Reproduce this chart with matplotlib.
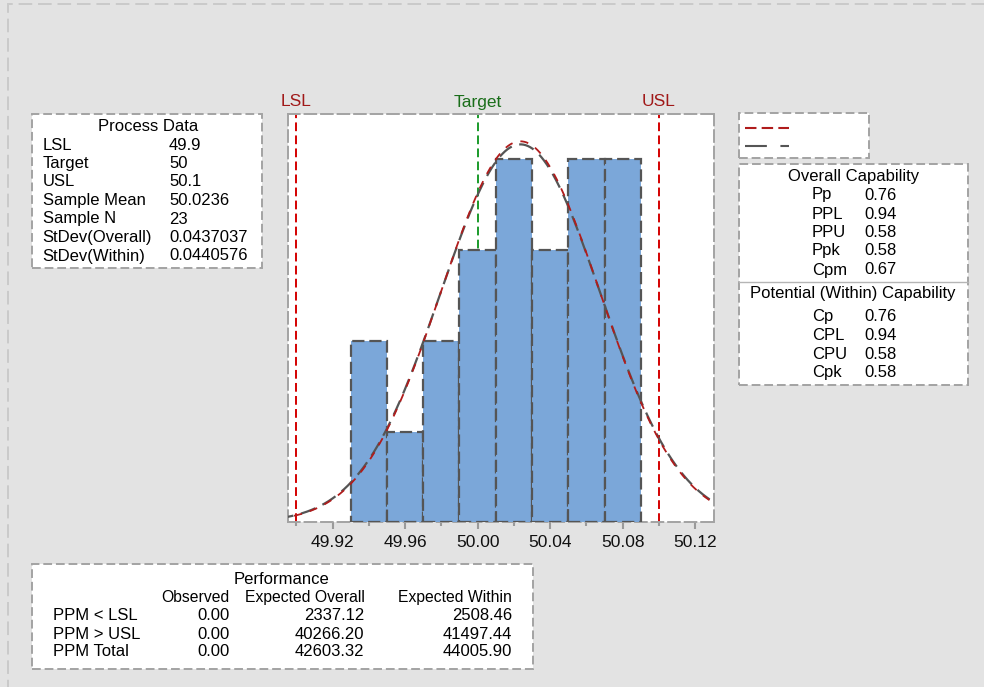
import numpy as np
import matplotlib
matplotlib.use("Agg")
import matplotlib.pyplot as plt
from matplotlib.patches import Rectangle
from matplotlib.lines import Line2D
from matplotlib.ticker import FixedLocator, FormatStrFormatter

plt.rcParams['font.family'] = ['Liberation Sans', 'DejaVu Sans']

# ---- process data ----
lsl, target, usl = 49.9, 50.0, 50.1
sample_mean = 50.0236
sample_n = 23
sd_overall = 0.0437037
sd_within = 0.0440576

bin_edges = [49.93, 49.95, 49.97, 49.99, 50.01, 50.03, 50.05, 50.07, 50.09]
counts = [2, 1, 2, 3, 4, 3, 4, 4]

xticks_major = [49.92, 49.96, 50.00, 50.04, 50.08, 50.12]
xticks_minor = [49.90, 49.94, 49.98, 50.02, 50.06, 50.10]

process_labels = ["LSL", "Target", "USL", "Sample Mean", "Sample N",
                  "StDev(Overall)", "StDev(Within)"]
process_values = ["49.9", "50", "50.1", "50.0236", "23", "0.0437037", "0.0440576"]

overall_labels = ["Pp", "PPL", "PPU", "Ppk", "Cpm"]
overall_values = ["0.76", "0.94", "0.58", "0.58", "0.67"]
within_labels = ["Cp", "CPL", "CPU", "Cpk"]
within_values = ["0.76", "0.94", "0.58", "0.58"]

perf_cols = ["Observed", "Expected Overall", "Expected Within"]
perf_rows = ["PPM < LSL", "PPM > USL", "PPM Total"]
perf_observed = ["0.00", "0.00", "0.00"]
perf_exp_overall = ["2337.12", "40266.20", "42603.32"]
perf_exp_within = ["2508.46", "41497.44", "44005.90"]

# ---- figure ----
W, H = 984, 687
fig = plt.figure(figsize=(W / 100, H / 100), dpi=100)
fig.patch.set_facecolor('#e3e3e3')


def fx(px):
    return px / W


def fy(py):
    return 1 - py / H


BOX_C = '#a3a3a3'
BOX_LS = (0, (4.5, 2.0))


def box(x0, y0, x1, y1, lw=1.4, color=BOX_C, face='white'):
    r = Rectangle((fx(x0), fy(y1)), fx(x1) - fx(x0), fy(y0) - fy(y1),
                  transform=fig.transFigure, facecolor=face, edgecolor=color,
                  lw=lw, linestyle=BOX_LS, zorder=0)
    fig.patches.append(r)


# outer frame of the window
fig.patches.append(Rectangle((fx(8), fy(760)), fx(1060) - fx(8), fy(4) - fy(760),
                             transform=fig.transFigure, facecolor='none',
                             edgecolor='#cacaca', lw=1.4, linestyle=(0, (7, 3))))

# ---- histogram axes ----
ax_l, ax_r, ax_t, ax_b = 287.7, 714.3, 114.0, 522.3
ax = fig.add_axes([fx(ax_l), fy(ax_b), fx(ax_r) - fx(ax_l), fy(ax_t) - fy(ax_b)])
ax.set_facecolor('white')
ax.set_xlim(49.8953, 50.1305)
ax.set_ylim(0, 4.5)

edges = np.array(bin_edges)
widths = np.diff(edges)
ax.bar(edges[:-1], counts, width=widths, align='edge', color='#7ba7d9',
       edgecolor='#555555', linewidth=1.6, linestyle=(0, (5.5, 2.2)), zorder=3)

ax.axvline(lsl, color='#d40000', lw=1.4, linestyle=(0, (4.5, 2.2)), zorder=2)
ax.axvline(usl, color='#d40000', lw=1.4, linestyle=(0, (4.5, 2.2)), zorder=2)
ax.axvline(target, color='#1a9a2a', lw=1.4, linestyle=(0, (4.5, 2.2)), zorder=1)

bw = bin_edges[1] - bin_edges[0]
xs = np.linspace(49.89, 50.14, 600)


def normal_curve(sd):
    return sample_n * bw * np.exp(-0.5 * ((xs - sample_mean) / sd) ** 2) / (sd * np.sqrt(2 * np.pi))


ax.plot(xs, normal_curve(sd_within), color='#555555', lw=1.6,
        linestyle=(0, (7, 3.5)), zorder=4)
ax.plot(xs, normal_curve(sd_overall), color='#b01c1c', lw=1.3,
        linestyle=(0, (4.5, 4.5)), zorder=5)

for s in ax.spines.values():
    s.set_color(BOX_C)
    s.set_linewidth(1.4)
    s.set_linestyle((0, (6, 2.5)))

ax.set_yticks([])
ax.xaxis.set_major_locator(FixedLocator(xticks_major))
ax.xaxis.set_minor_locator(FixedLocator(xticks_minor))
ax.xaxis.set_major_formatter(FormatStrFormatter('%.2f'))
ax.tick_params(axis='x', which='major', length=5, width=1.5, color='#9a9a9a',
               labelsize=12.5, pad=4, labelcolor='#111111')
ax.tick_params(axis='x', which='minor', length=3, width=1.5, color='#9a9a9a')

# spec limit labels
spec_red = '#a01818'
lab_off = 1.0 + 12 / (ax_b - ax_t)
ax.text(lsl, lab_off, "LSL", transform=ax.get_xaxis_transform(),
        ha='center', va='center', fontsize=12.5, color=spec_red)
ax.text(target, lab_off, "Target", transform=ax.get_xaxis_transform(),
        ha='center', va='center', fontsize=12.5, color='#1a6e1a')
ax.text(usl, lab_off, "USL", transform=ax.get_xaxis_transform(),
        ha='center', va='center', fontsize=12.5, color=spec_red)

FS = 12

# ---- process data box ----
box(32, 114, 262, 268)
fig.text(fx(148), fy(126.7), "Process Data", ha='center', va='center', fontsize=FS)
rows_y = [145, 163.5, 182, 200.5, 219, 237.5, 256]
for lab, val, y in zip(process_labels, process_values, rows_y):
    fig.text(fx(42.7), fy(y), lab, ha='left', va='center', fontsize=FS)
    fig.text(fx(169), fy(y), val, ha='left', va='center', fontsize=FS)

# ---- legend box ----
box(739.3, 113.3, 869.3, 157.7)
fig.lines.append(Line2D([fx(745), fx(789)], [fy(127.7), fy(127.7)], transform=fig.transFigure,
                        color='#b01c1c', lw=1.5, linestyle=(0, (5.5, 2.5))))
fig.lines.append(Line2D([fx(745), fx(789)], [fy(146.3), fy(146.3)], transform=fig.transFigure,
                        color='#555555', lw=1.5, linestyle=(0, (10.5, 6.5))))

# ---- capability box ----
box(739.3, 164.3, 968.3, 385)
fig.lines.append(Line2D([fx(739.3), fx(968.3)], [fy(281.7), fy(281.7)],
                        transform=fig.transFigure, color='#b5b5b5', lw=1.0))
fig.text(fx(853.3), fy(176.7), "Overall Capability", ha='center', va='center', fontsize=FS)
for lab, val, y in zip(overall_labels, overall_values, [195, 214.3, 232.7, 250.7, 270]):
    fig.text(fx(811.7), fy(y), lab, ha='left', va='center', fontsize=FS)
    fig.text(fx(864), fy(y), val, ha='left', va='center', fontsize=FS)
fig.text(fx(852.7), fy(293.3), "Potential (Within) Capability", ha='center', va='center', fontsize=FS)
for lab, val, y in zip(within_labels, within_values, [316.7, 335, 354.3, 372.7]):
    fig.text(fx(811.7), fy(y), lab, ha='left', va='center', fontsize=FS)
    fig.text(fx(864), fy(y), val, ha='left', va='center', fontsize=FS)

# ---- performance box ----
box(31.7, 564.3, 533.3, 669.3)
fig.text(fx(281.7), fy(579), "Performance", ha='center', va='center', fontsize=FS)
col_right = [229.3, 364.5, 512]
for name, xr in zip(perf_cols, col_right):
    fig.text(fx(xr), fy(597.3), name, ha='right', va='center', fontsize=11.3)
for i, (lab, y) in enumerate(zip(perf_rows, [616, 634.3, 651.7])):
    fig.text(fx(52.7), fy(y), lab, ha='left', va='center', fontsize=FS)
    for col, xr in zip([perf_observed, perf_exp_overall, perf_exp_within], col_right):
        fig.text(fx(xr), fy(y), col[i], ha='right', va='center', fontsize=FS)

fig.savefig("out.png", dpi=100, facecolor=fig.get_facecolor())
